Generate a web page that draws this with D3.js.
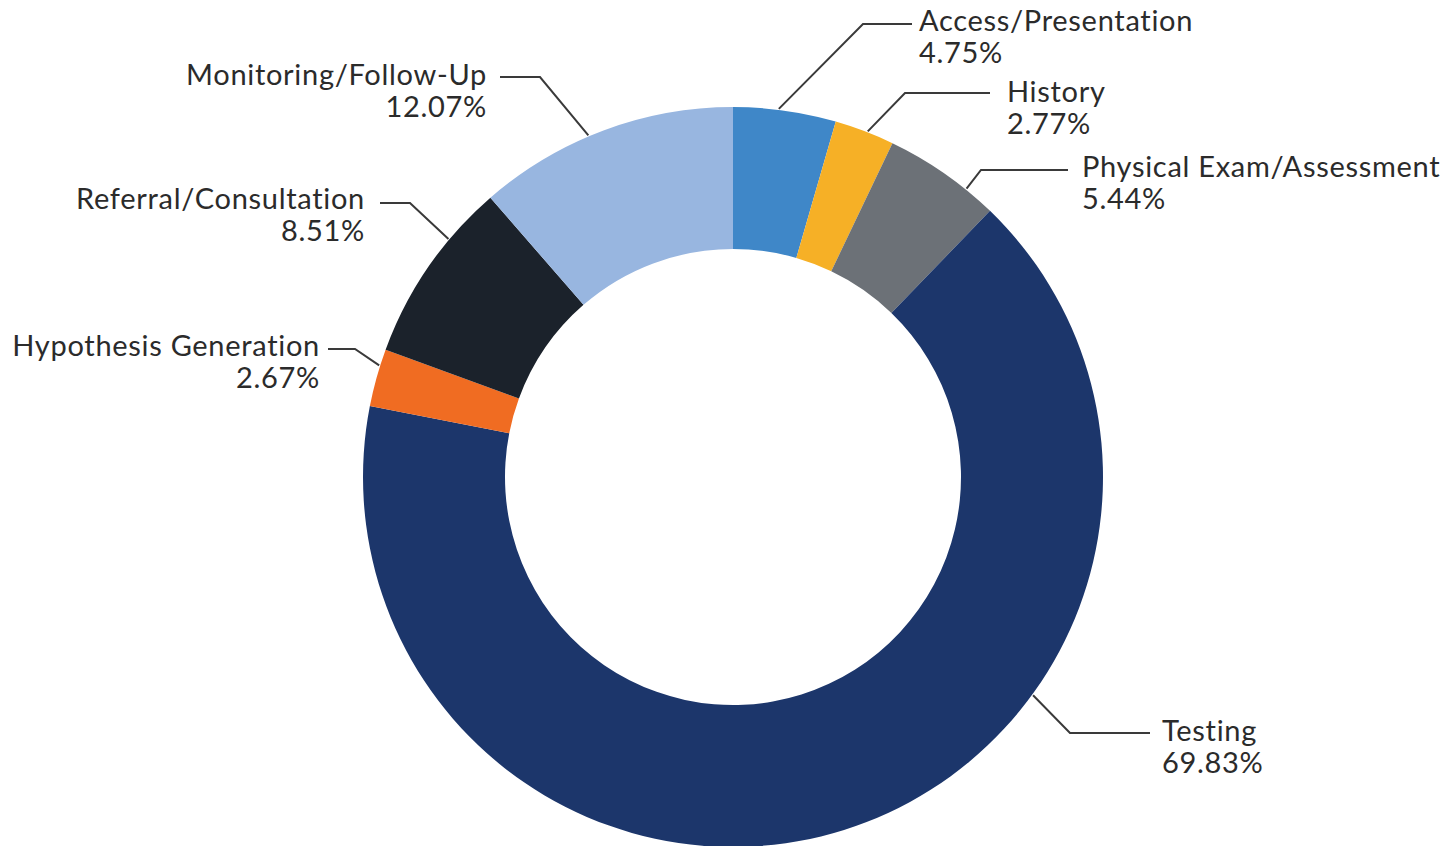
<!DOCTYPE html>
<html>
<head>
<meta charset="utf-8">
<script src="https://cdn.jsdelivr.net/npm/d3@7"></script>
<style>
  html, body { margin: 0; padding: 0; background: #fff; }
  svg { display: block; }
  .lbl { font-family: Lato, "Open Sans", sans-serif; font-size: 29px; letter-spacing: 0.7px; fill: #2b2b2b; }
  .leader { fill: none; stroke: #3a3a3a; stroke-width: 2; }
</style>
</head>
<body>
<svg id="chart" width="1447" height="846"></svg>
<script>
// data
const categories = ["Access/Presentation", "History", "Physical Exam/Assessment", "Testing",
                    "Hypothesis Generation", "Referral/Consultation", "Monitoring/Follow-Up"];
const shares = [4.75, 2.77, 5.44, 69.83, 2.67, 8.51, 12.07];
const colors = ["#3f87c8", "#f6b026", "#6c7177", "#1c366b", "#f06c22", "#1b222b", "#98b6e0"];

// label layout: where along the slice the leader starts (0..1), elbow, line end, text spot
const labelLayout = [
  { t: 0.44, elbow: [863, 24],  end: [912, 24],  tx: 919,  ty: 31,  anchor: "start" },
  { t: 0.55, elbow: [905, 93],  end: [990, 93],  tx: 1007, ty: 102, anchor: "start" },
  { t: 0.73, elbow: [981, 170], end: [1068, 170], tx: 1082, ty: 177, anchor: "start" },
  { t: 0.346, elbow: [1070, 733], end: [1150, 733], tx: 1162, ty: 741, anchor: "start" },
  { t: 0.71, elbow: [355, 349], end: [328, 349], tx: 320,  ty: 356, anchor: "end" },
  { t: 0.685, elbow: [410, 203], end: [380, 203], tx: 365,  ty: 209, anchor: "end" },
  { t: 0.44, elbow: [540, 77],  end: [500, 77],  tx: 487,  ty: 85,  anchor: "end" }
];

const cx = 733, cy = 477;
const outerR = 370, innerR = 228;

let svg = d3.select("#chart");

let pie = d3.pie().sort(null).value(d => d.value);
let arcs = pie(categories.map((c, i) => ({ name: c, value: shares[i], color: colors[i] })));

let arc = d3.arc().innerRadius(innerR).outerRadius(outerR);

let ring = svg.append("g")
    .attr("transform", "translate(" + cx + "," + cy + ")");

ring.selectAll("path").data(arcs).join("path")
    .attr("d", arc)
    .attr("fill", d => d.data.color);

// leaders + labels
let labels = svg.append("g");
arcs.forEach((d, i) => {
    let lay = labelLayout[i];
    let a = d.startAngle + lay.t * (d.endAngle - d.startAngle);
    let sx = cx + (outerR + 1) * Math.sin(a);
    let sy = cy - (outerR + 1) * Math.cos(a);
    labels.append("path")
        .attr("class", "leader")
        .attr("d", d3.line()([[sx, sy], lay.elbow, lay.end]));
    let txt = labels.append("text")
        .attr("class", "lbl")
        .attr("text-anchor", lay.anchor)
        .attr("x", lay.tx)
        .attr("y", lay.ty);
    txt.append("tspan").attr("x", lay.tx).text(d.data.name);
    txt.append("tspan").attr("x", lay.tx).attr("dy", 32).text(d3.format(".2f")(d.data.value) + "%");
});
</script>
</body>
</html>
